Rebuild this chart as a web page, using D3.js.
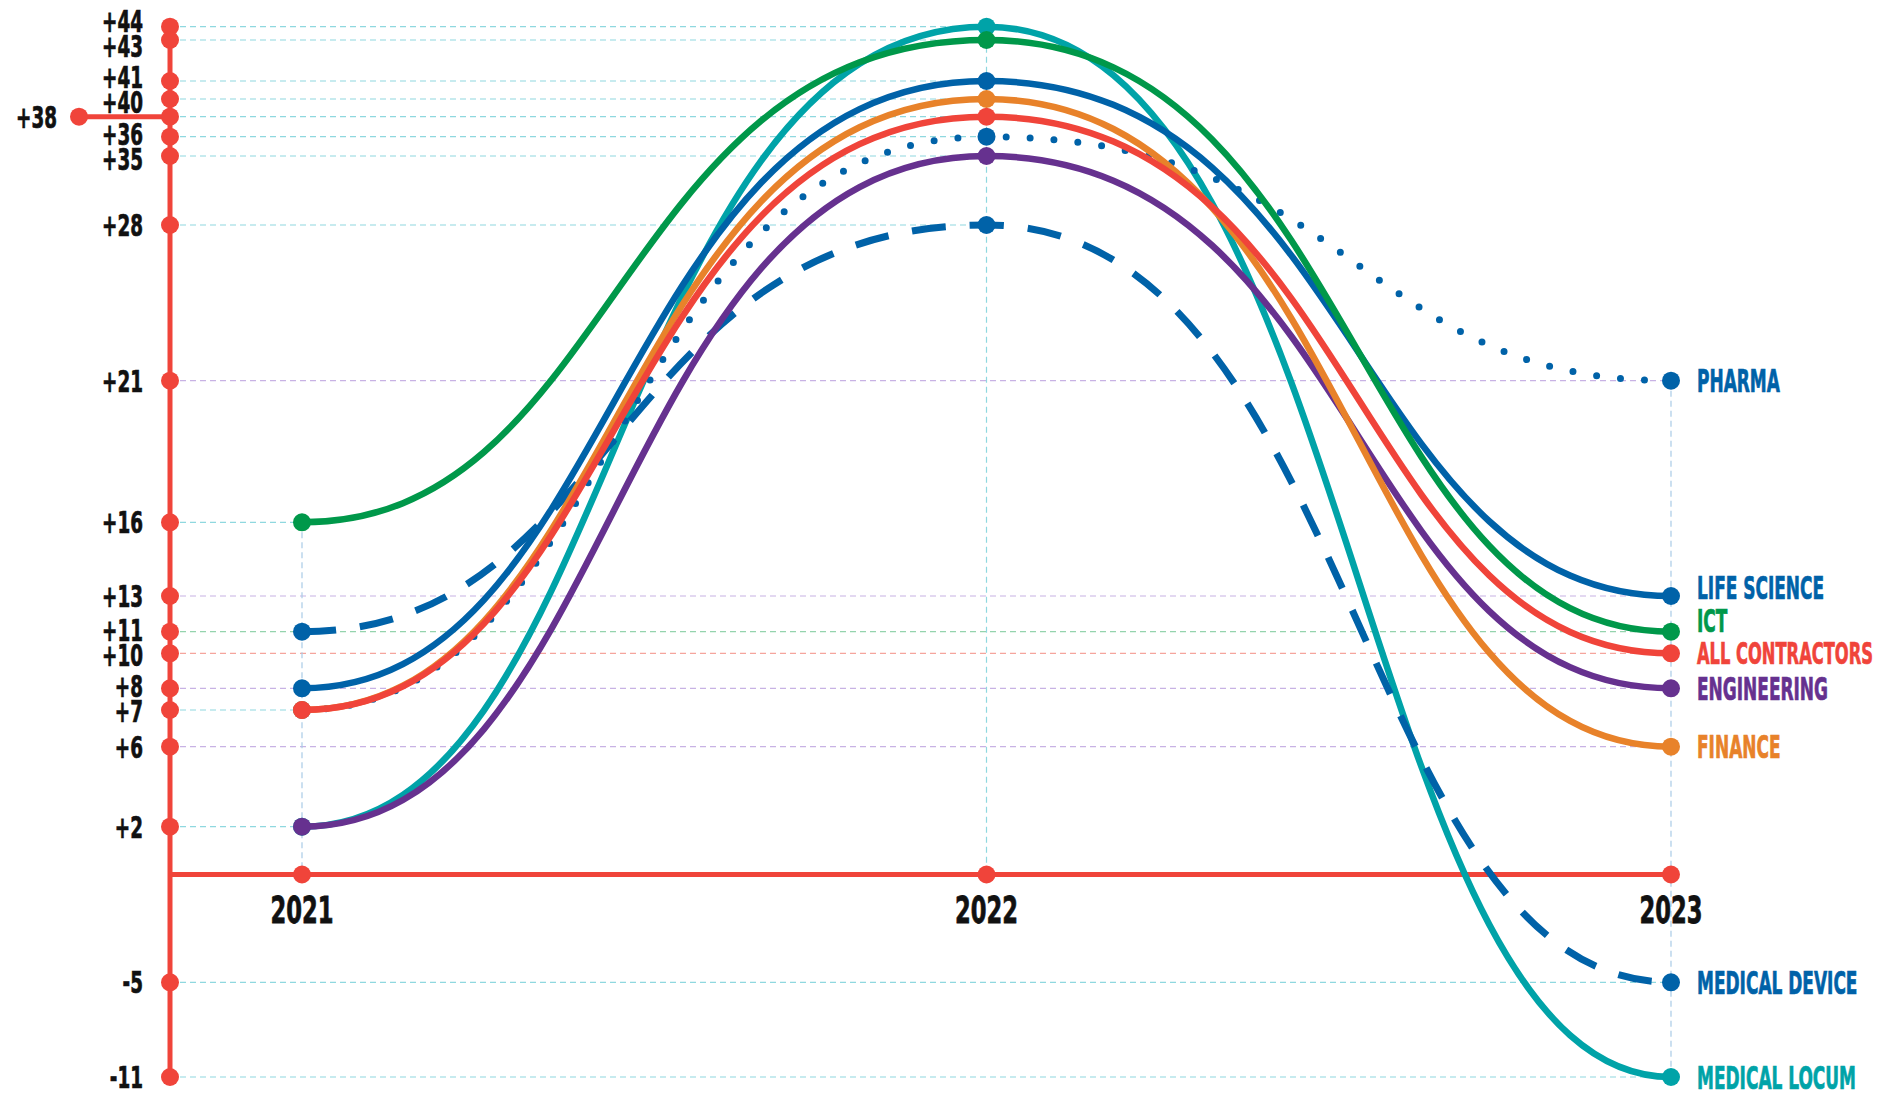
<!DOCTYPE html>
<html>
<head>
<meta charset="utf-8">
<script src="https://cdn.jsdelivr.net/npm/d3@7"></script>
<style>
  html, body { margin: 0; padding: 0; background: #fff; }
  svg text { font-family: "Liberation Sans Narrow", "DejaVu Sans Condensed", "Roboto", sans-serif; font-weight: bold; fill: #111; }
</style>
</head>
<body>
<svg id="graph" width="1878" height="1100"></svg>
<script>
// data
let years = [2021, 2022, 2023];
let tick_values = [44, 43, 41, 40, 38, 36, 35, 28, 21, 16, 13, 11, 10, 8, 7, 6, 2, 0, -5, -11];
let highlight_value = 38;

let pharma = [7, 36, 21];
let life_science = [8, 41, 13];
let ict = [16, 43, 11];
let all_contractors = [7, 38, 10];
let engineering = [2, 35, 8];
let finance = [7, 40, 6];
let medical_device = [11, 28, -5];
let medical_locum = [2, 44, -11];

// draw order: first is bottom
let series = [
  {name: "MEDICAL LOCUM", values: medical_locum, color: "#00a3a8", style: "solid"},
  {name: "PHARMA", values: pharma, color: "#0062a8", style: "dot"},
  {name: "MEDICAL DEVICE", values: medical_device, color: "#0062a8", style: "dash"},
  {name: "ENGINEERING", values: engineering, color: "#66318f", style: "solid"},
  {name: "FINANCE", values: finance, color: "#e8822a", style: "solid"},
  {name: "ALL CONTRACTORS", values: all_contractors, color: "#f0443a", style: "solid"},
  {name: "LIFE SCIENCE", values: life_science, color: "#0062a8", style: "solid"},
  {name: "ICT", values: ict, color: "#00984a", style: "solid"}
];

// grid line tint for each tick
let grid_tint = {21: "#c8b2e4", 13: "#c8b2e4", 8: "#c8b2e4", 6: "#c8b2e4", 11: "#94d3ad", 10: "#f5a59d"};

let layout = {
  width: 1878,
  axis_x: 170,
  year_range: [302, 1671],
  // the y axis of the original is not evenly spaced, stops per tick
  y_stops: [26.7, 40, 81, 99, 116.7, 136.7, 156, 225, 380.7, 522.3, 596, 631.7, 653.3, 688.3, 710, 746.7, 826.7, 874.5, 982.3, 1077],
  tick_label_x: 143,
  hl_x: 79,
  hl_label_x: 57,
  series_label_x: 1697,
  font: {tick: 30, year: 37, series: 32},
  squeeze: {tick: 0.68, year: 0.68, series: 0.59},
  lean: 0.46
};

let red = "#f0443a";
let graph = d3.select("#graph");

let x = d3.scaleLinear().domain([years[0], years[years.length - 1]]).range(layout.year_range);
let y = d3.scaleLinear().domain(tick_values).range(layout.y_stops);

// smooth hump: flat at every point, the bend sits a bit nearer the lower end
let curve_lean = function(context) {
  let pts = [];
  return {
    areaStart: function() {}, areaEnd: function() {},
    lineStart: function() { pts = []; },
    point: function(px, py) { pts.push([+px, +py]); },
    lineEnd: function() {
      if (!pts.length) return;
      context.moveTo(pts[0][0], pts[0][1]);
      for (let i = 1; i < pts.length; i++) {
        let a = pts[i - 1], b = pts[i];
        let low = a[1] > b[1] ? a : b, high = low === a ? b : a;
        let cx = low[0] + layout.lean * (high[0] - low[0]);
        context.bezierCurveTo(cx, a[1], cx, b[1], b[0], b[1]);
      }
    }
  };
};

let squeezed_text = function(g, tx, ty, txt, size, sx, anchor, color, max_w) {
  let t = g.append("text")
    .attr("transform", "translate(" + tx + "," + ty + ") scale(" + sx + ",1)")
    .attr("dy", "0.36em")
    .attr("text-anchor", anchor)
    .style("font-size", size + "px")
    .style("fill", color || "#111")
    .style("stroke", color || "#111")
    .style("stroke-width", 0.7)
    .text(txt);
  if (max_w) {
    let w = t.node().getComputedTextLength() * sx;
    if (w > max_w) t.style("font-size", (size * max_w / w) + "px");
  }
};

// grid lines
let grid = graph.append("g").attr("data-role", "grid");
tick_values.filter(function(v) { return v != 0; }).forEach(function(v) {
  let far = years.filter(function(yr, i) {
    return series.some(function(s) { return s.values[i] == v; });
  });
  let x_end = far.length ? x(d3.max(far)) : x(years[0]);
  grid.append("line")
    .attr("x1", layout.axis_x).attr("x2", x_end)
    .attr("y1", y(v)).attr("y2", y(v))
    .style("stroke", grid_tint[v] || "#8fd8df")
    .style("stroke-width", 1.2)
    .style("stroke-dasharray", "6 4");
});
years.forEach(function(yr, i) {
  let vals = series.map(function(s) { return s.values[i]; });
  grid.append("line")
    .attr("x1", x(yr)).attr("x2", x(yr))
    .attr("y1", y(d3.max(vals))).attr("y2", y(Math.min(0, d3.min(vals))))
    .style("stroke", i == 1 ? "#8fd8df" : "#a9cbe7")
    .style("stroke-width", 1.2)
    .style("stroke-dasharray", "6 4");
});

// red axes
let axis = graph.append("g").attr("data-role", "axis");
axis.append("line")
  .attr("x1", layout.axis_x).attr("x2", layout.axis_x)
  .attr("y1", y(d3.max(tick_values))).attr("y2", y(d3.min(tick_values)))
  .style("stroke", red).style("stroke-width", 5);
axis.append("line")
  .attr("x1", layout.axis_x).attr("x2", x(years[years.length - 1]))
  .attr("y1", y(0)).attr("y2", y(0))
  .style("stroke", red).style("stroke-width", 5);
axis.append("line")
  .attr("x1", layout.hl_x).attr("x2", layout.axis_x)
  .attr("y1", y(highlight_value)).attr("y2", y(highlight_value))
  .style("stroke", red).style("stroke-width", 5);
axis.selectAll("circle.tick").data(tick_values.filter(function(v) { return v != 0; })).enter()
  .append("circle").attr("class", "tick")
  .attr("cx", layout.axis_x).attr("cy", function(d) { return y(d); }).attr("r", 9)
  .style("fill", red);
axis.append("circle").attr("cx", layout.hl_x).attr("cy", y(highlight_value)).attr("r", 9).style("fill", red);
axis.selectAll("circle.yr").data(years).enter()
  .append("circle").attr("class", "yr")
  .attr("cx", function(d) { return x(d); }).attr("cy", y(0)).attr("r", 9)
  .style("fill", red);

// tick labels, spread apart where they crowd
let fmt = function(v) { return v > 0 ? "+" + v : String(v); };
let tick_labels = tick_values.filter(function(v) { return v != 0 && v != highlight_value; })
  .map(function(v) { return {v: v, pos: y(v)}; });
for (let it = 0; it < 30; it++) {
  for (let i = 1; i < tick_labels.length; i++) {
    let gap = tick_labels[i].pos - tick_labels[i - 1].pos;
    if (gap < 25) {
      let push = (25 - gap) / 2;
      tick_labels[i - 1].pos -= push;
      tick_labels[i].pos += push;
    }
  }
}
let labels = graph.append("g").attr("data-role", "labels");
tick_labels.forEach(function(t) {
  squeezed_text(labels, layout.tick_label_x, t.pos, fmt(t.v), layout.font.tick, layout.squeeze.tick, "end");
});
squeezed_text(labels, layout.hl_label_x, y(highlight_value), fmt(highlight_value), layout.font.tick, layout.squeeze.tick, "end");

years.forEach(function(yr) {
  labels.append("text")
    .attr("transform", "translate(" + x(yr) + "," + (y(0) + 48) + ") scale(" + layout.squeeze.year + ",1)")
    .attr("text-anchor", "middle")
    .style("font-size", layout.font.year + "px")
    .style("stroke", "#111").style("stroke-width", 0.8)
    .text(yr);
});

// series lines
let line = d3.line()
  .x(function(d, i) { return x(years[i]); })
  .y(function(d) { return y(d); })
  .curve(curve_lean);

let lines = graph.append("g").attr("data-role", "lines");
series.forEach(function(s) {
  let path = lines.append("path")
    .attr("d", line(s.values))
    .style("fill", "none")
    .style("stroke", s.color);
  if (s.style == "dot") {
    path.style("stroke-width", 7).style("stroke-dasharray", "0 24").style("stroke-linecap", "round");
  } else if (s.style == "dash") {
    path.style("stroke-width", 7).style("stroke-dasharray", "34 24");
  } else {
    path.style("stroke-width", 6.5).style("stroke-linecap", "round");
  }
  lines.selectAll(null).data(s.values).enter().append("circle")
    .attr("cx", function(d, i) { return x(years[i]); })
    .attr("cy", function(d) { return y(d); })
    .attr("r", 9)
    .style("fill", s.color);
});

// end labels, pushed upward when they crowd
let ends = series.map(function(s) { return {s: s, pos: y(s.values[s.values.length - 1])}; })
  .sort(function(a, b) { return b.pos - a.pos; });
for (let i = 1; i < ends.length; i++) {
  ends[i].pos = Math.min(ends[i].pos, ends[i - 1].pos - 33);
}
ends.forEach(function(e) {
  squeezed_text(labels, layout.series_label_x, e.pos, e.s.name, layout.font.series, layout.squeeze.series, "start", e.s.color,
    layout.width - layout.series_label_x - 5);
});
</script>
</body>
</html>
